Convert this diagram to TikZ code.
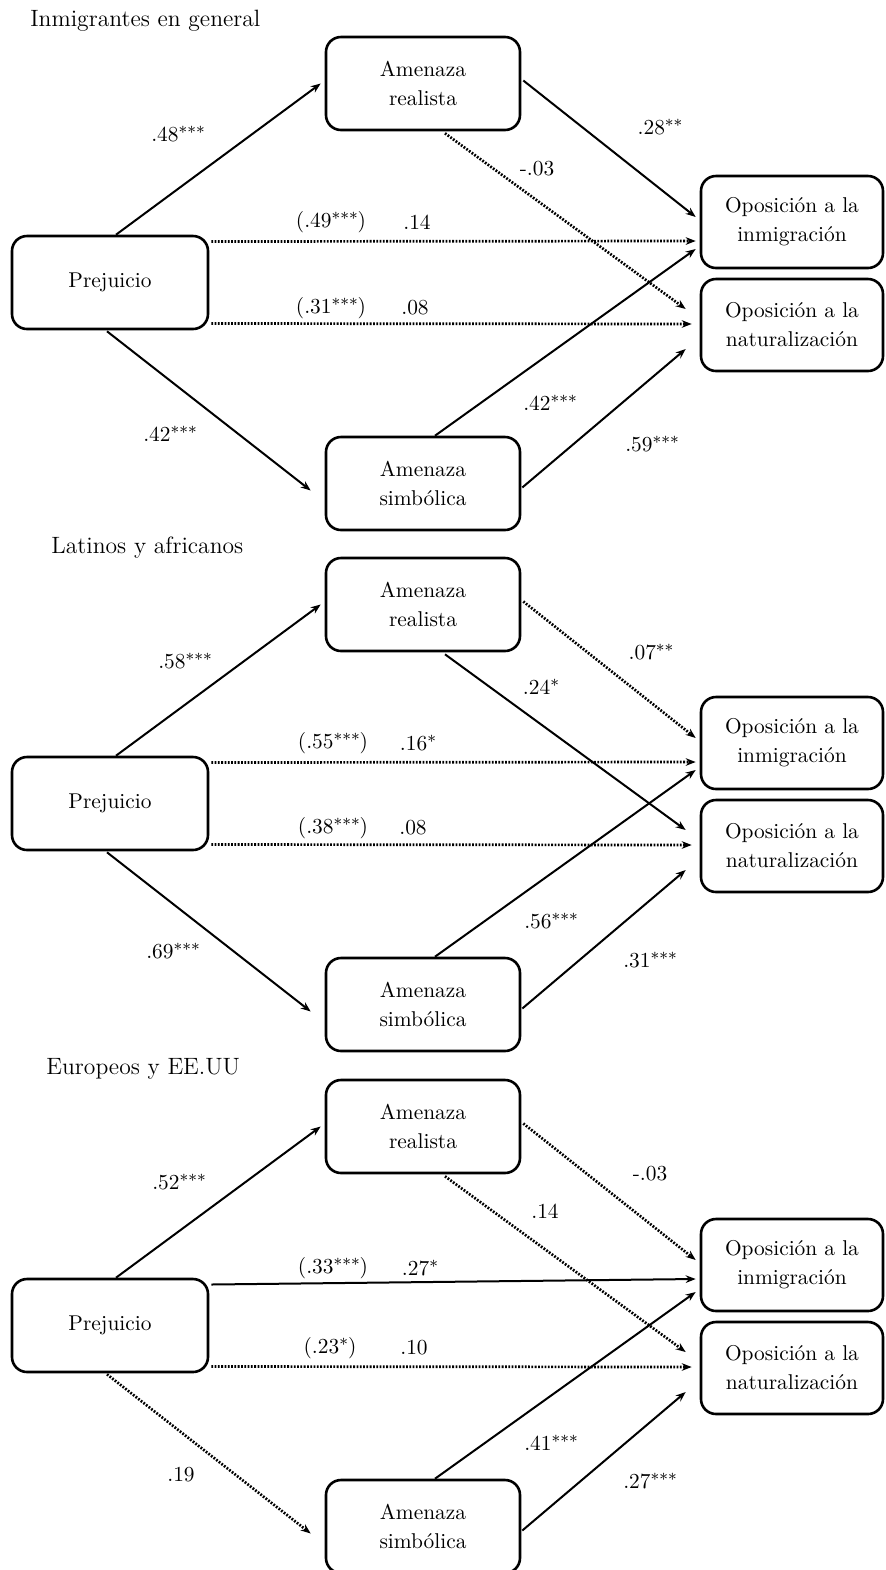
\documentclass[tikz,border=0pt]{standalone}
\usetikzlibrary{arrows.meta}

\newcommand{\sig}[1]{\raisebox{0.3ex}{\fontsize{8.2}{8}\selectfont #1}}

\tikzset{
  varbox/.style={draw, rounded corners=7.5pt, line width=1.3pt, align=center,
    font=\fontsize{10.7}{14.5}\selectfont, inner sep=0pt},
  predbox/.style={varbox, minimum width=98pt, minimum height=46.5pt},
  medbox/.style={varbox, minimum width=97pt, minimum height=46.5pt},
  outbox/.style={varbox, minimum width=91pt, minimum height=46pt},
  solidarrow/.style={-{Stealth[length=5pt,width=3.8pt]}, line width=1pt},
  dotarrow/.style={solidarrow, line width=1.35pt, dash pattern=on 0.9pt off 0.75pt},
  coef/.style={inner sep=0pt, font=\fontsize{10.7}{13}\selectfont},
  paneltitle/.style={anchor=base west, inner sep=0pt, font=\fontsize{11.8}{14}\selectfont}
}

\begin{document}
\begin{tikzpicture}[x=0.5pt, y=-0.5pt]
    \useasboundingbox (0,0) rectangle (885,1570);

    % Inmigrantes en general
    \node[paneltitle] (t1) at (30,26) {Inmigrantes en general};
    \node[predbox] (p1) at (110,282.5) {Prejuicio};
    \node[medbox] (r1) at (423,83.5) {Amenaza\\realista};
    \node[medbox] (s1) at (423,483.5) {Amenaza\\simbólica};
    \node[outbox] (i1) at (792,222) {Oposición a la\\inmigración};
    \node[outbox] (n1) at (792,325) {Oposición a la\\naturalización};

    \draw[solidarrow] ([shift={(6,0)}]p1.north) -- ([shift={(-4,0)}]r1.west);
    \draw[solidarrow] ([shift={(-3,1)}]p1.south) -- ([shift={(-14,7)}]s1.west);
    \draw[dotarrow] ([shift={(2,-41)}]p1.east) -- ([shift={(-4,19)}]i1.west);
    \draw[dotarrow] ([shift={(2,41)}]p1.east) -- ([shift={(-8,-1)}]n1.west);
    \draw[solidarrow] ([shift={(2,-3)}]r1.east) -- ([shift={(-4,-5)}]i1.west);
    \draw[dotarrow] ([shift={(22,2)}]r1.south) -- ([shift={(-14,-16)}]n1.west);
    \draw[solidarrow] ([shift={(12,0)}]s1.north) -- ([shift={(-4,27)}]i1.west);
    \draw[solidarrow] ([shift={(1,4)}]s1.east) -- ([shift={(-14,24)}]n1.west);

    \node[coef] (a1) at (178,134) {.48\sig{***}};
    \node[coef] (b1) at (170,434) {.42\sig{***}};
    \node[coef] (c1) at (537,169) {-.03};
    \node[coef] (d1) at (660,127) {.28\sig{**}};
    \node[coef] (e1) at (331,222) {(.49\sig{***})};
    \node[coef] (f1) at (417,222) {.14};
    \node[coef] (g1) at (331,308) {(.31\sig{***})};
    \node[coef] (h1) at (415,308) {.08};
    \node[coef] (k1) at (550,403) {.42\sig{***}};
    \node[coef] (m1) at (652,444) {.59\sig{***}};

    % Latinos y africanos
    \node[paneltitle] (t2) at (51,553) {Latinos y africanos};
    \node[predbox] (p2) at (110,803.5) {Prejuicio};
    \node[medbox] (r2) at (423,604.5) {Amenaza\\realista};
    \node[medbox] (s2) at (423,1004.5) {Amenaza\\simbólica};
    \node[outbox] (i2) at (792,743) {Oposición a la\\inmigración};
    \node[outbox] (n2) at (792,846) {Oposición a la\\naturalización};

    \draw[solidarrow] ([shift={(6,0)}]p2.north) -- ([shift={(-4,0)}]r2.west);
    \draw[solidarrow] ([shift={(-3,1)}]p2.south) -- ([shift={(-14,7)}]s2.west);
    \draw[dotarrow] ([shift={(2,-41)}]p2.east) -- ([shift={(-4,19)}]i2.west);
    \draw[dotarrow] ([shift={(2,41)}]p2.east) -- ([shift={(-8,-1)}]n2.west);
    \draw[dotarrow] ([shift={(2,-3)}]r2.east) -- ([shift={(-4,-5)}]i2.west);
    \draw[solidarrow] ([shift={(22,2)}]r2.south) -- ([shift={(-14,-16)}]n2.west);
    \draw[solidarrow] ([shift={(12,0)}]s2.north) -- ([shift={(-4,27)}]i2.west);
    \draw[solidarrow] ([shift={(1,4)}]s2.east) -- ([shift={(-14,24)}]n2.west);

    \node[coef] (a2) at (185,661) {.58\sig{***}};
    \node[coef] (b2) at (173,951) {.69\sig{***}};
    \node[coef] (c2) at (541,687) {.24\sig{*}};
    \node[coef] (d2) at (651,652) {.07\sig{**}};
    \node[coef] (e2) at (333,743) {(.55\sig{***})};
    \node[coef] (f2) at (418,743) {.16\sig{*}};
    \node[coef] (g2) at (333,828) {(.38\sig{***})};
    \node[coef] (h2) at (413,828) {.08};
    \node[coef] (k2) at (551,921) {.56\sig{***}};
    \node[coef] (m2) at (650,960) {.31\sig{***}};

    % Europeos y EE.UU
    \node[paneltitle] (t3) at (46,1074) {Europeos y EE.UU};
    \node[predbox] (p3) at (110,1325.5) {Prejuicio};
    \node[medbox] (r3) at (423,1126.5) {Amenaza\\realista};
    \node[medbox] (s3) at (423,1526.5) {Amenaza\\simbólica};
    \node[outbox] (i3) at (792,1265) {Oposición a la\\inmigración};
    \node[outbox] (n3) at (792,1368) {Oposición a la\\naturalización};

    \draw[solidarrow] ([shift={(6,0)}]p3.north) -- ([shift={(-4,0)}]r3.west);
    \draw[dotarrow] ([shift={(-3,1)}]p3.south) -- ([shift={(-14,7)}]s3.west);
    \draw[solidarrow] ([shift={(2,-41)}]p3.east) -- ([shift={(-4,14)}]i3.west);
    \draw[dotarrow] ([shift={(2,41)}]p3.east) -- ([shift={(-8,-1)}]n3.west);
    \draw[dotarrow] ([shift={(2,-3)}]r3.east) -- ([shift={(-4,-5)}]i3.west);
    \draw[dotarrow] ([shift={(22,2)}]r3.south) -- ([shift={(-14,-16)}]n3.west);
    \draw[solidarrow] ([shift={(12,0)}]s3.north) -- ([shift={(-4,27)}]i3.west);
    \draw[solidarrow] ([shift={(1,4)}]s3.east) -- ([shift={(-14,24)}]n3.west);

    \node[coef] (a3) at (179,1182) {.52\sig{***}};
    \node[coef] (b3) at (181,1475) {.19};
    \node[coef] (c3) at (545,1211) {.14};
    \node[coef] (d3) at (650,1174) {-.03};
    \node[coef] (e3) at (333,1268) {(.33\sig{***})};
    \node[coef] (f3) at (420,1268) {.27\sig{*}};
    \node[coef] (g3) at (330,1348) {(.23\sig{*})};
    \node[coef] (h3) at (414,1348) {.10};
    \node[coef] (k3) at (551,1443) {.41\sig{***}};
    \node[coef] (m3) at (650,1481) {.27\sig{***}};
\end{tikzpicture}
\end{document}
